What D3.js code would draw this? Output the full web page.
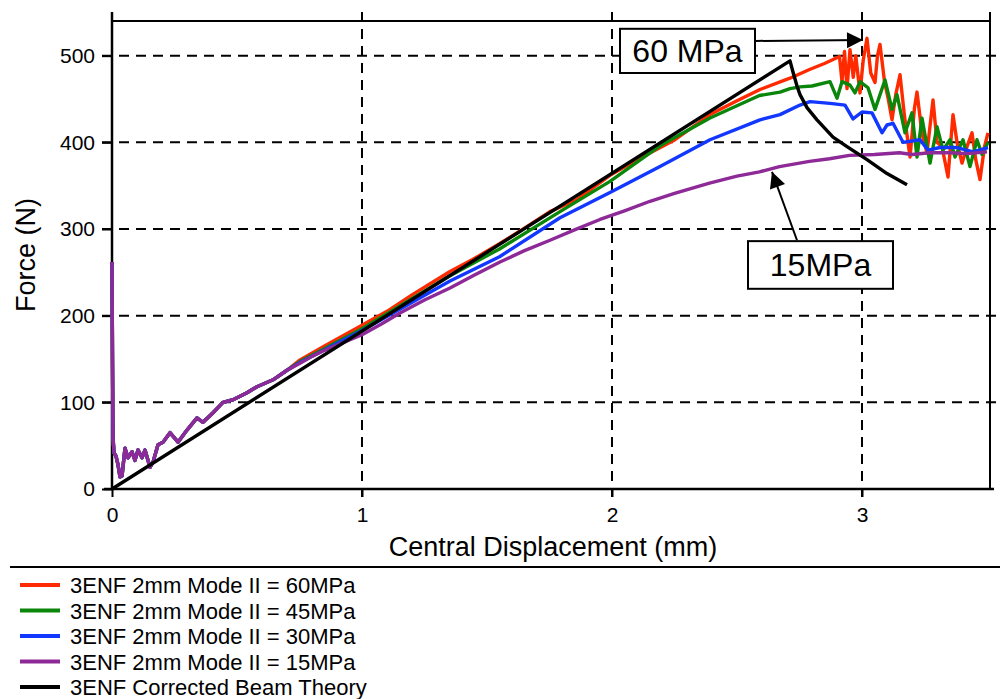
<!DOCTYPE html>
<html><head><meta charset="utf-8">
<script src="https://cdn.jsdelivr.net/npm/d3@7"></script>
<style>body{margin:0;background:#fff;}svg{display:block;font-family:"Liberation Sans",Arial,sans-serif;}</style>
</head><body><svg id="c" width="1000" height="699"></svg>
<script>
const xTicks = [0, 1, 2, 3];
const yTicks = [0, 100, 200, 300, 400, 500];
const seriesNames = ["3ENF 2mm Mode II = 60MPa","3ENF 2mm Mode II = 45MPa","3ENF 2mm Mode II = 30MPa","3ENF 2mm Mode II = 15MPa","3ENF Corrected Beam Theory"];
const seriesColors = ["#ff2a00","#0a870a","#1238ff","#8e2a97","#000000"];

const commonStart = [[0,262],[0.002,150],[0.004,60],[0.008,42],[0.016,38],[0.024,28],[0.032,14],[0.04,15],[0.052,47],[0.064,36],[0.08,43],[0.092,33],[0.104,45],[0.12,36],[0.132,45],[0.152,25],[0.164,31],[0.184,51],[0.204,54],[0.232,65],[0.264,54],[0.3,68],[0.34,82],[0.364,77],[0.404,88],[0.444,100],[0.484,103],[0.54,111],[0.58,118],[0.644,126],[0.7,137]];
const red60 = [[0.752,149],[0.85,165],[1.0,189],[1.1,205],[1.2,224],[1.352,251],[1.444,265],[1.55,283],[1.65,301],[1.752,320],[1.859,334],[1.992,362],[2.1,380],[2.252,403],[2.392,432],[2.5,448],[2.592,461],[2.712,474],[2.79,484],[2.85,491],[2.91,499],[2.92,470],[2.93,505],[2.94,462],[2.952,507],[2.965,475],[2.975,500],[2.992,457],[3.005,495],[3.02,520],[3.035,480],[3.052,469],[3.062,500],[3.072,513],[3.09,470],[3.105,450],[3.12,426],[3.135,455],[3.152,478],[3.17,430],[3.192,383],[3.21,440],[3.22,458],[3.24,410],[3.26,388],[3.284,449],[3.3,400],[3.32,395],[3.344,360],[3.364,432],[3.38,400],[3.4,376],[3.42,395],[3.44,411],[3.455,380],[3.472,357],[3.49,395],[3.504,411]];
const green45 = [[0.752,147],[1.0,185],[1.352,246],[1.55,277],[1.792,320],[1.992,355],[2.192,396],[2.392,428],[2.59,454],[2.672,458],[2.712,462],[2.752,464],[2.8,465],[2.872,470],[2.9,451],[2.92,470],[2.952,466],[2.972,457],[2.992,470],[3.024,463],[3.052,438],[3.092,472],[3.12,438],[3.14,455],[3.172,411],[3.2,434],[3.22,383],[3.24,428],[3.272,376],[3.3,418],[3.324,391],[3.352,403],[3.372,383],[3.404,403],[3.432,372],[3.46,403],[3.48,386],[3.504,400]];
const blue30 = [[0.752,146],[1.0,183],[1.352,240],[1.55,268],[1.792,313],[1.992,342],[2.192,372],[2.392,403],[2.592,426],[2.672,432],[2.752,443],[2.792,447],[2.872,445],[2.932,443],[2.964,427],[3.0,435],[3.04,434],[3.08,411],[3.1,420],[3.124,422],[3.164,400],[3.232,403],[3.264,391],[3.312,394],[3.38,394],[3.444,389],[3.504,394]];
const purple15 = [[0.752,145],[0.8,153],[0.85,160],[0.9,166],[0.95,172],[1.0,178],[1.076,190],[1.152,203],[1.25,218],[1.352,232],[1.45,247],[1.552,262],[1.65,275],[1.752,287],[1.85,299],[1.952,311],[2.05,321],[2.152,332],[2.25,341],[2.39,353],[2.5,361],[2.59,366],[2.67,372],[2.79,378],[2.87,381],[2.95,385],[3.05,386],[3.15,388],[3.2,386],[3.27,388],[3.35,388],[3.42,387],[3.5,389]];
const beamTheory = [[0,0],[2.712,494],[2.725,480],[2.74,465],[2.752,455],[2.78,440],[2.82,426],[2.884,406],[2.94,395],[3.02,380],[3.1,364],[3.18,351]];

const annoLabels = ["60 MPa","15MPa"];
const annoBoxes = [[2.032,2.572,531,480],[2.544,3.124,286,231]]; // x0,x1,yTop,yBot in data units
const annoArrows = [[2.576,517,3.004,518],[2.74,287,2.64,366]]; // from -> to tip

const svg = d3.select("#c");
const x = d3.scaleLinear().domain([0,3.512]).range([112,990]);
const y = d3.scaleLinear().domain([0,540]).range([489,21]);

// grid
const g = svg.append("g");
g.selectAll(".hg").data(yTicks.filter(d=>d>0)).join("line")
 .attr("x1",102).attr("x2",1000).attr("y1",d=>y(d)).attr("y2",d=>y(d))
 .attr("stroke","#000").attr("stroke-width",2).attr("stroke-dasharray","10,7");
g.selectAll(".vg").data(xTicks.filter(d=>d>0)).join("line")
 .attr("x1",d=>x(d)).attr("x2",d=>x(d)).attr("y1",12).attr("y2",497)
 .attr("stroke","#000").attr("stroke-width",2).attr("stroke-dasharray","10,7");

// frame
svg.append("line").attr("x1",x(0)).attr("x2",x(3.512)).attr("y1",y(540)).attr("y2",y(540)).attr("stroke","#000").attr("stroke-width",2);
svg.append("line").attr("x1",x(3.512)).attr("x2",x(3.512)).attr("y1",12).attr("y2",y(0)).attr("stroke","#000").attr("stroke-width",2);

// axes
const xAxis = d3.axisBottom(x).tickValues(xTicks).tickFormat(d3.format("d")).tickSize(8).tickPadding(10);
const yAxis = d3.axisLeft(y).tickValues(yTicks).tickFormat(d3.format("d")).tickSize(10).tickPadding(7);
const gx = svg.append("g").attr("transform",`translate(0,${y(0)})`).call(xAxis);
const gy = svg.append("g").attr("transform",`translate(${x(0)},0)`).call(yAxis);
[gx,gy].forEach(a=>{
  a.select(".domain").attr("stroke","#000").attr("stroke-width",2.5);
  a.selectAll(".tick line").attr("stroke","#000").attr("stroke-width",2);
  a.selectAll(".tick text").attr("font-size",21).attr("fill","#000").attr("font-family","Liberation Sans, Arial, sans-serif");
});
gy.select(".domain").attr("d",`M0,12V${y(0)}`);
gx.select(".domain").attr("d",`M${x(0)-8},0H${x(3.512)+4}`);

// data lines
const line = d3.line().x(d=>x(d[0])).y(d=>y(d[1]));
const dataSets = [commonStart.concat(red60),commonStart.concat(green45),commonStart.concat(blue30),commonStart.concat(purple15),beamTheory];
dataSets.forEach((ds,i)=>{
  svg.append("path").datum(ds).attr("d",line).attr("fill","none")
   .attr("stroke",seriesColors[i]).attr("stroke-width",3.4).attr("stroke-linejoin","round");
});

// axis titles
svg.append("text").attr("x",553).attr("y",556).attr("text-anchor","middle").attr("font-size",27).text("Central Displacement (mm)");
svg.append("text").attr("transform","translate(35,255) rotate(-90)").attr("text-anchor","middle").attr("font-size",27).text("Force (N)");

// annotations
svg.append("defs").append("marker").attr("id","ah").attr("viewBox","0 0 10 10").attr("refX",10).attr("refY",5)
 .attr("markerWidth",20).attr("markerHeight",16).attr("markerUnits","userSpaceOnUse").attr("orient","auto")
 .append("path").attr("d","M0,0L10,5L0,10Z").attr("fill","#000");
annoArrows.forEach(a=>{
  svg.append("line").attr("x1",x(a[0])).attr("y1",y(a[1])).attr("x2",x(a[2])).attr("y2",y(a[3]))
   .attr("stroke","#000").attr("stroke-width",2).attr("marker-end","url(#ah)");
});
annoBoxes.forEach((b,i)=>{
  svg.append("rect").attr("x",x(b[0])).attr("y",y(b[2])).attr("width",x(b[1])-x(b[0])).attr("height",y(b[3])-y(b[2]))
   .attr("fill","#fff").attr("stroke","#000").attr("stroke-width",2);
  svg.append("text").attr("x",(x(b[0])+x(b[1]))/2).attr("y",(y(b[2])+y(b[3]))/2+11).attr("text-anchor","middle")
   .attr("font-size",32).text(annoLabels[i]);
});

// legend
svg.append("line").attr("x1",10).attr("x2",1000).attr("y1",567).attr("y2",567).attr("stroke","#000").attr("stroke-width",2);
const lg = svg.append("g");
seriesNames.forEach((n,i)=>{
  const cy = 585 + i*25.5;
  lg.append("line").attr("x1",20).attr("x2",60).attr("y1",cy).attr("y2",cy).attr("stroke",seriesColors[i]).attr("stroke-width",4);
  lg.append("text").attr("x",70).attr("y",cy+8).attr("font-size",22).text(n);
});
</script></body></html>
